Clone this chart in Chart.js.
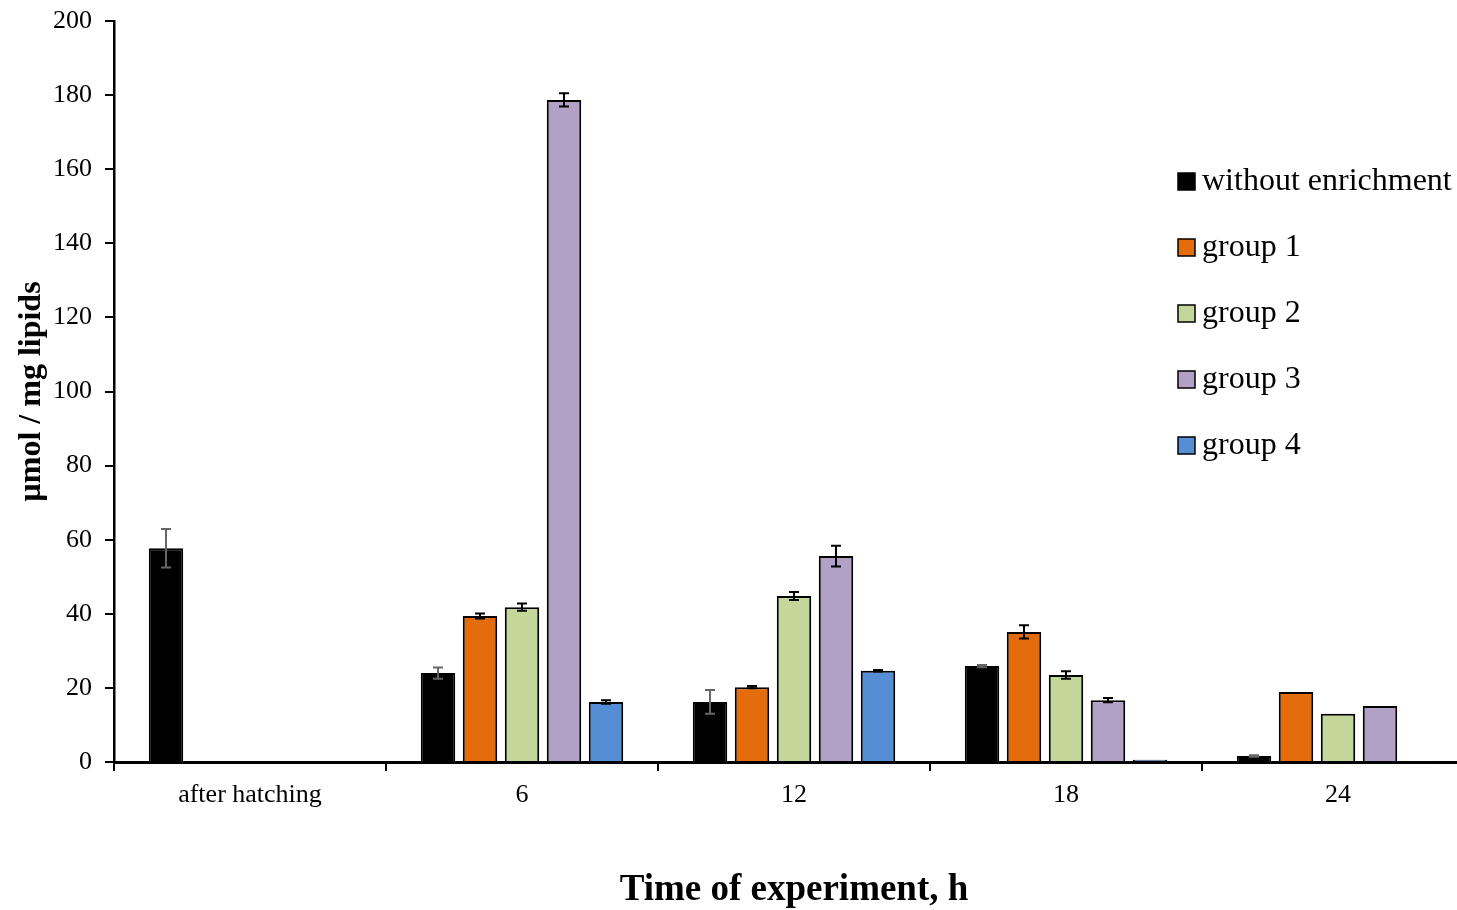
<!DOCTYPE html>
<html>
<head>
<meta charset="utf-8">
<script src="https://cdn.jsdelivr.net/npm/chart.js@4/dist/chart.umd.min.js"></script>
<style>
  html, body { margin: 0; padding: 0; background: #fff; overflow: hidden; }
  /* plot runs slightly past the right edge of the window */
  #wrap { width: 1474px; height: 910px; }
</style>
</head>
<body>
<div id="wrap"><canvas id="lipidChart"></canvas></div>
<script>
// time points (h)
const timeLabels = ['after hatching', '6', '12', '18', '24'];

// mean values, µmol / mg lipids
const withoutEnrichment = [57.7, 24.0, 16.2, 25.9, 1.6];
const group1 = [null, 39.4, 20.2, 35.1, 18.9];
const group2 = [null, 41.8, 44.8, 23.5, 13.0];
const group3 = [null, 178.7, 55.6, 16.7, 15.1];
const group4 = [null, 16.2, 24.6, 0.6, 0.2];

// standard errors
const errWithout = [5.2, 1.5, 3.2, 0.3, 0.2];
const errGroup1 = [null, 0.7, 0.3, 1.8, 0];
const errGroup2 = [null, 1.0, 1.1, 1.0, 0];
const errGroup3 = [null, 1.8, 2.8, 0.6, 0];
const errGroup4 = [null, 0.5, 0.2, 0, 0];

const serif = "'Liberation Serif', 'Times New Roman', serif";
Chart.defaults.font.family = serif;
Chart.defaults.color = '#000';

// error bars with caps, drawn on top of the bars
const errorBars = {
    id: 'errorBars',
    afterDatasetsDraw(chart) {
        const ctx = chart.ctx;
        const y = chart.scales.y;
        chart.data.datasets.forEach((ds, i) => {
            const meta = chart.getDatasetMeta(i);
            meta.data.forEach((bar, j) => {
                const v = ds.data[j];
                const e = ds.errors[j];
                if (v == null || !e) return;
                const top = y.getPixelForValue(v + e);
                const bottom = y.getPixelForValue(v - e);
                ctx.save();
                ctx.strokeStyle = ds.errorColor;
                ctx.lineWidth = 2;
                ctx.beginPath();
                ctx.moveTo(bar.x, top);
                ctx.lineTo(bar.x, bottom);
                ctx.moveTo(bar.x - 5, top);
                ctx.lineTo(bar.x + 5, top);
                ctx.moveTo(bar.x - 5, bottom);
                ctx.lineTo(bar.x + 5, bottom);
                ctx.stroke();
                ctx.restore();
            });
        });
    }
};

// legend sitting inside the plot area, top right
const innerLegend = {
    id: 'innerLegend',
    afterDraw(chart) {
        const ctx = chart.ctx;
        const x0 = 1178;
        let yc = 181;
        ctx.save();
        ctx.font = '32px ' + serif;
        ctx.textBaseline = 'middle';
        chart.data.datasets.forEach(ds => {
            ctx.fillStyle = ds.backgroundColor;
            ctx.fillRect(x0, yc - 8, 17, 17);
            ctx.strokeStyle = '#000';
            ctx.lineWidth = 1.5;
            ctx.strokeRect(x0, yc - 8, 17, 17);
            ctx.fillStyle = '#000';
            ctx.fillText(ds.label, x0 + 24, yc + 1);
            yc += 66;
        });
        ctx.restore();
    }
};

function series(label, data, errors, fill, errorColor) {
    return {
        label: label,
        data: data,
        errors: errors,
        errorColor: errorColor,
        backgroundColor: fill,
        borderColor: '#000',
        borderWidth: 2,
        categoryPercentage: 0.772,
        barPercentage: 0.82
    };
}

new Chart(document.getElementById('lipidChart'), {
    type: 'bar',
    data: {
        labels: timeLabels,
        datasets: [
            series('without enrichment', withoutEnrichment, errWithout, '#000000', '#666666'),
            series('group 1', group1, errGroup1, '#E46C0A', '#000'),
            series('group 2', group2, errGroup2, '#C4D79B', '#000'),
            series('group 3', group3, errGroup3, '#B2A1C7', '#000'),
            series('group 4', group4, errGroup4, '#558ED5', '#000')
        ]
    },
    options: {
        responsive: true,
        maintainAspectRatio: false,
        animation: false,
        layout: { padding: { top: 21, right: 0, left: 0, bottom: 0 } },
        scales: {
            x: {
                grid: { drawOnChartArea: false, color: '#000', lineWidth: 2, tickLength: 9, offset: true },
                border: { color: '#000', width: 3 },
                ticks: { font: { size: 26 }, padding: 9, maxRotation: 0 },
                title: {
                    display: true,
                    text: 'Time of experiment, h',
                    font: { size: 37, weight: 'bold', lineHeight: 1.05 },
                    padding: { top: 0, bottom: 0 }
                },
                afterFit(scale) { scale.height = 148; }
            },
            y: {
                min: 0,
                max: 200,
                ticks: { stepSize: 20, font: { size: 26 }, padding: 13 },
                grid: { drawOnChartArea: false, color: '#000', lineWidth: 2, tickLength: 9 },
                border: { color: '#000', width: 2.5 },
                title: {
                    display: true,
                    text: 'µmol / mg lipids',
                    font: { size: 32, weight: 'bold' },
                    padding: { top: 13, bottom: 0 }
                },
                afterFit(scale) {
                    scale.width = 114;
                    // let layout.padding decide where the plot starts
                    scale.paddingTop = 0;
                    scale.paddingBottom = 0;
                }
            }
        },
        plugins: {
            legend: { display: false },
            tooltip: { enabled: false }
        }
    },
    plugins: [errorBars, innerLegend]
});
</script>
</body>
</html>
